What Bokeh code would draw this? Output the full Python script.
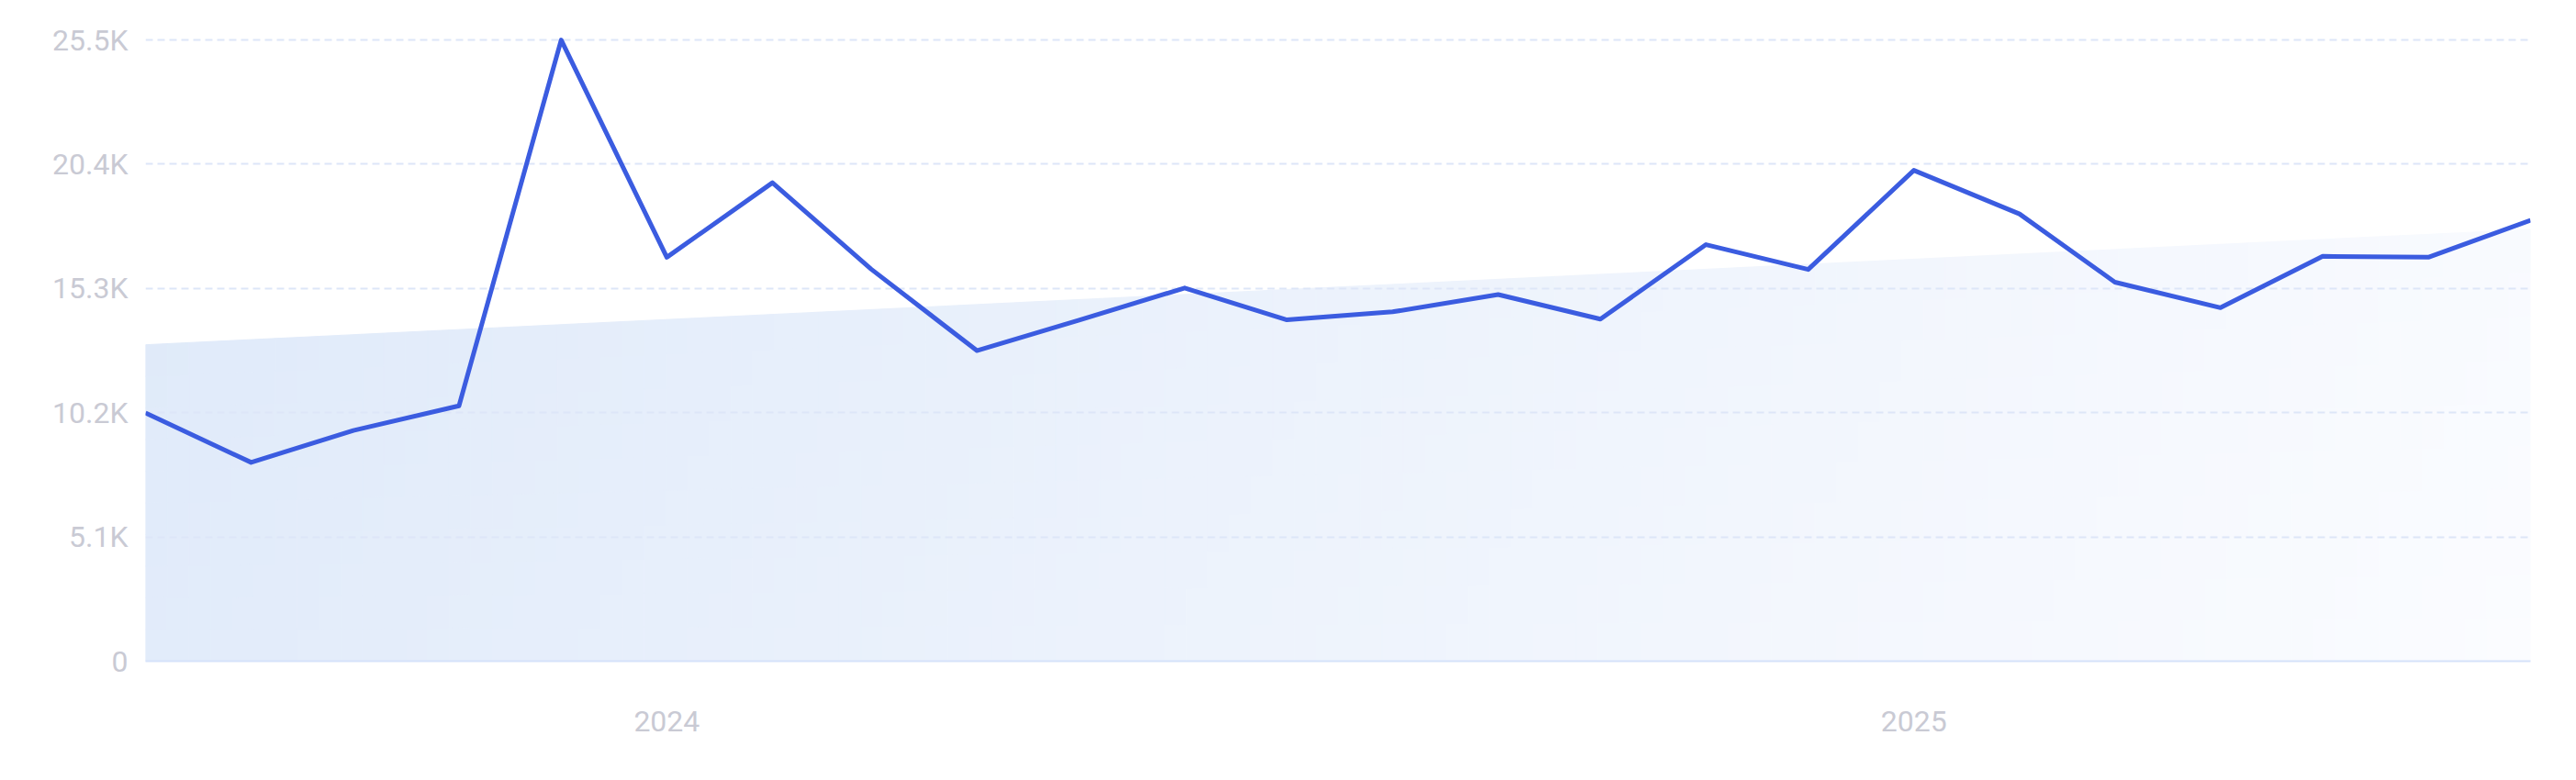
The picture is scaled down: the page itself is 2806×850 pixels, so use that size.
import numpy as np
import pandas as pd
from bokeh.plotting import figure
from bokeh.models import Range1d, FixedTicker, DatetimeTickFormatter, ColumnDataSource
from bokeh.embed import file_html
from bokeh.resources import INLINE

# ---- data ----
months = ["2023-08", "2023-09", "2023-10", "2023-11", "2023-12",
          "2024-01", "2024-02", "2024-03", "2024-04", "2024-05", "2024-06",
          "2024-07", "2024-08", "2024-09", "2024-10", "2024-11", "2024-12",
          "2025-01", "2025-02", "2025-03", "2025-04", "2025-05", "2025-06",
          "2025-07"]
values = [10190, 8160, 9470, 10480, 25500,
          16580, 19640, 16090, 12750, 14000, 15320,
          14010, 14340, 15050, 14040, 17100, 16080,
          20150, 18360, 15560, 14510, 16620, 16580,
          18100]
y_ticks = [0, 5100, 10200, 15300, 20400, 25500]
y_tick_labels = ["0", "5.1K", "10.2K", "15.3K", "20.4K", "25.5K"]
x_tick_dates = ["2024-01-01", "2025-01-01"]

# ---- styles ----
LINE = "#3b5ce0"
GRID = "#dde6f8"
LABEL = "#c9cad4"
FONT = "Roboto"
C0 = np.array([222, 233, 249])
C1 = np.array([251, 252, 255])

dates = pd.to_datetime(months)
ms = (dates.astype("int64") // 10**6).astype(float).to_numpy()
vals = np.array(values, dtype=float)

x0, x1 = ms[0], ms[-1]
y_top = 25880

p = figure(width=2790, height=834, x_axis_type="datetime",
           output_backend="svg", toolbar_location=None,
           x_range=Range1d(x0, x1), y_range=Range1d(0, y_top))
p.min_border_left = 158
p.min_border_right = 34
p.min_border_top = 33
p.min_border_bottom = 114
p.outline_line_color = None
p.background_fill_color = "white"
p.border_fill_color = "white"

# ---- trend area (linear regression of the series) with gradient ----
days = (ms - x0) / 86400000.0
slope, intercept = np.polyfit(days, vals, 1)
def trend(x):
    return intercept + slope * (x - x0) / 86400000.0

nx, ny = 110, 10
W, H = 2598.0, 680.0
a = 0.6
xs_list, ys_list, cols = [], [], []
edges = np.linspace(x0, x1, nx + 1)
for i in range(nx):
    xa, xb = edges[i], edges[i + 1]
    ta, tb = trend(xa), trend(xb)
    for j in range(ny):
        f0, f1 = j / ny, (j + 1) / ny
        xs_list.append([xa, xb, xb, xa])
        ys_list.append([ta * f0, tb * f0, tb * f1, ta * f1])
        xc = ((xa + xb) / 2 - x0) / (x1 - x0)
        yc = ((ta + tb) / 2) * (f0 + f1) / 2
        yd = 1 - yc / y_top
        t = (xc * W + a * yd * H) / (W + a * H)
        c = C0 + (C1 - C0) * t
        cols.append("#%02x%02x%02x" % tuple(int(round(v)) for v in c))
p.patches(xs_list, ys_list, fill_color=cols, line_color=cols, line_width=1, level="image")

# ---- series line ----
src = ColumnDataSource(dict(x=ms, y=vals))
p.line("x", "y", source=src, line_width=5, line_color=LINE, line_join="round")

# ---- axes ----
p.yaxis.ticker = FixedTicker(ticks=y_ticks)
p.yaxis.major_label_overrides = {t: l for t, l in zip(y_ticks, y_tick_labels)}
p.yaxis.axis_line_color = None
p.yaxis.major_tick_line_color = None
p.yaxis.minor_tick_line_color = None
p.yaxis.major_label_text_color = LABEL
p.yaxis.major_label_text_font = FONT
p.yaxis.major_label_text_font_size = "32px"
p.yaxis.major_label_standoff = 13

xt = [float(pd.Timestamp(d).value // 10**6) for d in x_tick_dates]
p.xaxis.ticker = FixedTicker(ticks=xt)
p.xaxis.formatter = DatetimeTickFormatter(
    microseconds="%Y", milliseconds="%Y", seconds="%Y", minsec="%Y",
    minutes="%Y", hourmin="%Y", hours="%Y", days="%Y", months="%Y", years="%Y")
p.xaxis.axis_line_color = "#d5e2fa"
p.xaxis.axis_line_width = 2
p.xaxis.major_tick_line_color = None
p.xaxis.minor_tick_line_color = None
p.xaxis.major_label_text_color = LABEL
p.xaxis.major_label_text_font = FONT
p.xaxis.major_label_text_font_size = "32px"
p.xaxis.major_label_standoff = 48

# ---- grid ----
p.xgrid.grid_line_color = None
p.ygrid.ticker = FixedTicker(ticks=y_ticks[1:])
p.ygrid.grid_line_color = GRID
p.ygrid.grid_line_width = 2
p.ygrid.grid_line_dash = "8 5"

open("out.html", "w").write(file_html(p, INLINE))
